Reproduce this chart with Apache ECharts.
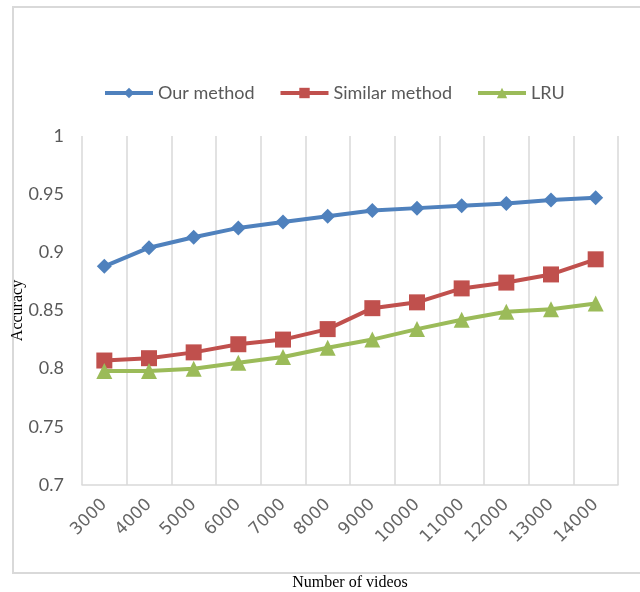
<!DOCTYPE html>
<html>
<head>
<meta charset="utf-8">
<script src="https://cdn.jsdelivr.net/npm/echarts@6/dist/echarts.min.js"></script>
<style>
  html, body { margin: 0; padding: 0; background: #fff; }
  #chart { width: 640px; height: 592px; }
</style>
</head>
<body>
<div id="chart"></div>
<script>
// 資料
const videoCounts = ["3000", "4000", "5000", "6000", "7000", "8000", "9000", "10000", "11000", "12000", "13000", "14000"];
const ourMethod = [0.888, 0.904, 0.913, 0.921, 0.926, 0.931, 0.936, 0.938, 0.940, 0.942, 0.945, 0.947];
const similarMethod = [0.807, 0.809, 0.814, 0.821, 0.825, 0.834, 0.852, 0.857, 0.869, 0.874, 0.881, 0.894];
const lru = [0.798, 0.798, 0.800, 0.805, 0.810, 0.818, 0.825, 0.834, 0.842, 0.849, 0.851, 0.856];

const chart = echarts.init(document.getElementById("chart"));

const labelFont = "Lato, 'Open Sans', sans-serif";

const makeSeries = (name, data, color, symbol, size) => ({
  name: name,
  type: "line",
  data: data,
  symbol: symbol,
  symbolSize: size,
  lineStyle: { color: color, width: 4 },
  itemStyle: { color: color },
  emphasis: { disabled: true },
});

chart.setOption({
  animation: false,
  // 外框
  graphic: [
    {
      type: "rect",
      shape: { x: 13, y: 7, width: 640, height: 566 },
      style: { fill: "none", stroke: "#d9d9d9", lineWidth: 2 },
      silent: true,
    },
  ],
  legend: {
    top: 79,
    left: 98,
    itemWidth: 48,
    itemHeight: 13,
    itemGap: 24,
    lineStyle: { width: 4 },
    textStyle: { color: "#595959", fontSize: 18, fontFamily: labelFont },
    data: ["Our method", "Similar method", "LRU"],
  },
  grid: {
    left: 82,
    right: 22,
    top: 136,
    bottom: 107,
    outerBoundsMode: "none",
    containLabel: false,
  },
  xAxis: {
    type: "category",
    data: videoCounts,
    boundaryGap: true,
    name: "Number of videos",
    nameLocation: "middle",
    nameGap: 90,
    nameMoveOverlap: false,
    nameTextStyle: { color: "#000", fontSize: 16, fontFamily: "'Liberation Serif', serif" },
    axisLine: { lineStyle: { color: "#d9d9d9", width: 1.5 } },
    axisTick: { show: false },
    axisLabel: {
      rotate: 45,
      interval: 0,
      color: "#666",
      fontSize: 17,
      fontFamily: "'DejaVu Sans', sans-serif",
      margin: 17,
    },
    splitLine: { show: true, interval: 0, lineStyle: { color: "#d9d9d9", width: 1.5 } },
  },
  yAxis: {
    type: "value",
    min: 0.7,
    max: 1,
    interval: 0.05,
    name: "Accuracy",
    nameLocation: "middle",
    nameGap: 56,
    nameMoveOverlap: false,
    nameTextStyle: { color: "#000", fontSize: 16, fontFamily: "'Liberation Serif', serif" },
    axisLine: { show: false },
    axisTick: { show: false },
    splitLine: { show: false },
    axisLabel: {
      color: "#595959",
      fontSize: 18,
      fontFamily: labelFont,
      margin: 18,
      formatter: (v) => String(parseFloat(v.toFixed(2))),
    },
  },
  series: [
    makeSeries("Our method", ourMethod, "#4f81bd", "diamond", 15),
    makeSeries("Similar method", similarMethod, "#c0504d", "rect", 16),
    makeSeries("LRU", lru, "#9bbb59", "triangle", 16),
  ],
});
</script>
</body>
</html>
